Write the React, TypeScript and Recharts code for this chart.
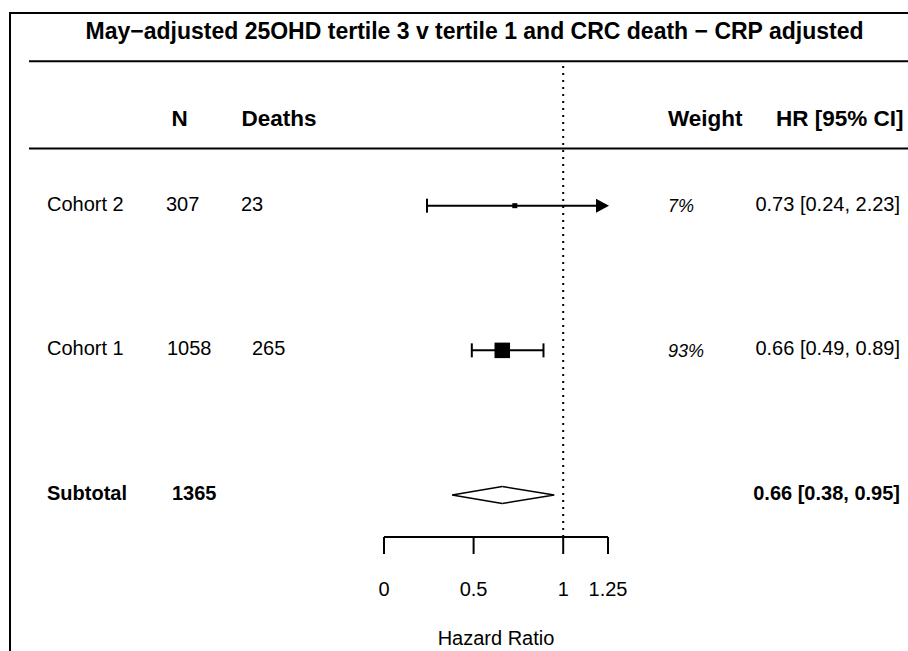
import React from "react";
import {
  ComposedChart,
  XAxis,
  YAxis,
  Scatter,
  ReferenceLine,
} from "recharts";

const TITLE = "May\u2212adjusted 25OHD tertile 3 v tertile 1 and CRC death \u2212 CRP adjusted";

const STUDIES = ["Cohort 2", "Cohort 1"];
const N_VALUES = [307, 1058];
const DEATHS = [23, 265];
const WEIGHTS = [7, 93];
const HR = [0.73, 0.66];
const CI_LOW = [0.24, 0.49];
const CI_HIGH = [2.23, 0.89];
const ROW_POS = [3, 2];

const SUBTOTAL_LABEL = "Subtotal";
const SUBTOTAL_N = 1365;
const SUBTOTAL_HR = 0.66;
const SUBTOTAL_LOW = 0.38;
const SUBTOTAL_HIGH = 0.95;
const SUBTOTAL_POS = 1;

const X_TICKS = [0, 0.5, 1, 1.25];
const X_MAX = 1.25;

const W = 908;
const H = 651;
const FONT = "'Liberation Sans', Arial, Helvetica, sans-serif";

const fmt = (v: number) => v.toFixed(2);

const points = STUDIES.map((s, i) => ({ x: HR[i], y: ROW_POS[i], w: WEIGHTS[i] }));
const maxW = Math.max(...WEIGHTS);

// x offsets for the N / Deaths columns (page px)
const N_X: Record<number, number> = { 3: 166, 2: 167, 1: 172 };
const D_X: Record<number, number> = { 3: 241, 2: 252 };

const RowTick = (props: any) => {
  const { y, payload } = props;
  const pos = payload.value;
  const by = y + 5;
  if (pos === SUBTOTAL_POS) {
    return (
      <g fontFamily={FONT} fontSize={20} fontWeight="bold" fill="#000">
        <text x={47} y={by}>{SUBTOTAL_LABEL}</text>
        <text x={N_X[1]} y={by}>{SUBTOTAL_N}</text>
        <text x={900} y={by} textAnchor="end">
          {`${fmt(SUBTOTAL_HR)} [${fmt(SUBTOTAL_LOW)}, ${fmt(SUBTOTAL_HIGH)}]`}
        </text>
      </g>
    );
  }
  const i = ROW_POS.indexOf(pos);
  if (i < 0) return null;
  return (
    <g fontFamily={FONT} fontSize={20} fill="#000">
      <text x={47} y={by}>{STUDIES[i]}</text>
      <text x={N_X[pos]} y={by}>{N_VALUES[i]}</text>
      <text x={D_X[pos]} y={by}>{DEATHS[i]}</text>
      <text x={668} y={by + 1.5} fontStyle="italic" fontSize={18}>{`${WEIGHTS[i]}%`}</text>
      <text x={900} y={by} textAnchor="end">
        {`${fmt(HR[i])} [${fmt(CI_LOW[i])}, ${fmt(CI_HIGH[i])}]`}
      </text>
    </g>
  );
};

const ciShape = (arrow: boolean) => (p: any) => {
  const { x1, x2, y1 } = p;
  const y = y1;
  return (
    <g>
      <line x1={x1} y1={y} x2={arrow ? x2 - 6 : x2} y2={y} stroke="#000" strokeWidth={2} />
      <line x1={x1} y1={y - 7} x2={x1} y2={y + 7} stroke="#000" strokeWidth={2} />
      {arrow ? (
        <polygon points={`${x2 - 12},${y - 7} ${x2 + 1},${y} ${x2 - 12},${y + 7}`} fill="#000" />
      ) : (
        <line x1={x2} y1={y - 7} x2={x2} y2={y + 7} stroke="#000" strokeWidth={2} />
      )}
    </g>
  );
};

const halfDiamond = (side: "left" | "right") => (p: any) => {
  const { x1, x2, y1 } = p;
  const h = 8.5;
  const d =
    side === "left"
      ? `M ${x2} ${y1 - h} L ${x1} ${y1} L ${x2} ${y1 + h}`
      : `M ${x1} ${y1 - h} L ${x2} ${y1} L ${x1} ${y1 + h}`;
  return <path d={d} fill="#fff" stroke="#000" strokeWidth={1.5} />;
};

const Square = (p: any) => {
  const s = Math.max(5, 15.5 * Math.sqrt(p.payload.w / maxW));
  return <rect x={p.cx - s / 2} y={p.cy - s / 2} width={s} height={s} fill="#000" />;
};

export default function App() {
  return (
    <div
      style={{
        position: "absolute",
        left: 0,
        top: 0,
        width: W,
        height: H,
        overflow: "hidden",
        background: "#fff",
        fontFamily: FONT,
      }}
    >
      <svg width={W} height={H} style={{ position: "absolute", left: 0, top: 0 }}>
        <path d={`M 10 ${H} L 10 13 L ${W} 13`} fill="none" stroke="#000" strokeWidth={2} />
        <text x={474.5} y={38.5} textAnchor="middle" fontSize={23} fontWeight="bold" fontFamily={FONT}>
          {TITLE}
        </text>
        <line x1={29} y1={61.3} x2={W} y2={61.3} stroke="#000" strokeWidth={2} />
        <g fontSize={22.5} fontWeight="bold" fontFamily={FONT}>
          <text x={171.5} y={125.5}>N</text>
          <text x={241.5} y={125.5}>Deaths</text>
          <text x={668} y={125.5}>Weight</text>
          <text x={903.5} y={125.5} textAnchor="end">HR [95% CI]</text>
        </g>
        <line x1={29} y1={148.5} x2={W} y2={148.5} stroke="#000" strokeWidth={2} />
      </svg>
      <div style={{ position: "absolute", left: 0, top: 0 }}>
        <ComposedChart
          width={W}
          height={H}
          margin={{ top: 61, right: 300, bottom: 0, left: 0 }}
        >
          <XAxis
            type="number"
            dataKey="x"
            domain={[0, X_MAX]}
            ticks={X_TICKS}
            interval={0}
            allowDataOverflow
            height={114}
            tickSize={17}
            tickMargin={28}
            axisLine={{ stroke: "#000", strokeWidth: 2 }}
            tickLine={{ stroke: "#000", strokeWidth: 2 }}
            tick={{ fill: "#000", fontSize: 20 }}
            label={{
              value: "Hazard Ratio",
              position: "insideBottom",
              offset: 6,
              fill: "#000",
              fontSize: 20,
            }}
          />
          <YAxis
            type="number"
            dataKey="y"
            domain={[0.71, 4.0]}
            ticks={[...ROW_POS, SUBTOTAL_POS]}
            interval={0}
            allowDataOverflow
            width={384}
            axisLine={false}
            tickLine={false}
            tick={RowTick}
          />
          <ReferenceLine
            x={1}
            stroke="#000"
            strokeWidth={2}
            strokeDasharray="2 5"
          />
          {STUDIES.map((s, i) => (
            <ReferenceLine
              key={s}
              segment={[
                { x: CI_LOW[i], y: ROW_POS[i] },
                { x: Math.min(CI_HIGH[i], X_MAX), y: ROW_POS[i] },
              ]}
              shape={ciShape(CI_HIGH[i] > X_MAX)}
            />
          ))}
          <ReferenceLine
            segment={[
              { x: SUBTOTAL_LOW, y: SUBTOTAL_POS },
              { x: SUBTOTAL_HR, y: SUBTOTAL_POS },
            ]}
            shape={halfDiamond("left")}
          />
          <ReferenceLine
            segment={[
              { x: SUBTOTAL_HR, y: SUBTOTAL_POS },
              { x: SUBTOTAL_HIGH, y: SUBTOTAL_POS },
            ]}
            shape={halfDiamond("right")}
          />
          <Scatter data={points} shape={Square} isAnimationActive={false} />
        </ComposedChart>
      </div>
    </div>
  );
}
